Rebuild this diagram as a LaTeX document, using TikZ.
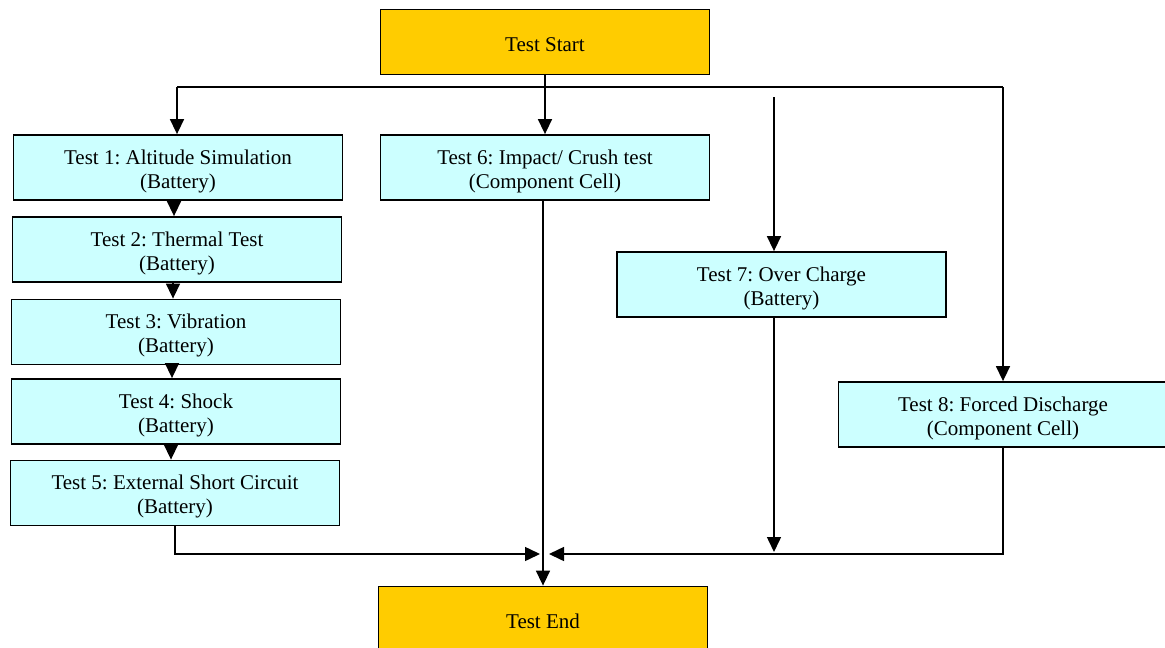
\documentclass[tikz,border=0pt]{standalone}
\usepackage{fontspec}
\setmainfont{Liberation Serif}
\usetikzlibrary{arrows.meta}
\definecolor{startc}{HTML}{FFCC00}
\definecolor{boxc}{HTML}{CCFFFF}
\begin{document}
\frenchspacing
\begin{tikzpicture}[x=1pt,y=-1pt,
  box/.style={draw, line width=1.8pt, fill=boxc, minimum width=329pt, minimum height=65pt,
    align=center, font=\rmfamily\fontsize{21}{24}\selectfont, inner sep=0pt,
    text height=44pt, text depth=3pt},
  term/.style={box, fill=startc, text height=20pt, text depth=2pt},
  conn/.style={line width=1.5pt},
  arr/.style={conn, -{Triangle[length=15pt,width=14pt]}}]
\useasboundingbox (0,0) rectangle (1165,648);

\node[term] (start) at (545,42) {Test Start};
\node[box] (t1) at (178,167.5) {Test 1: Altitude Simulation\\(Battery)};
\node[box] (t2) at (177,249.5) {Test 2: Thermal Test\\(Battery)};
\node[box] (t3) at (176,332) {Test 3: Vibration\\(Battery)};
\node[box] (t4) at (176,411.5) {Test 4: Shock\\(Battery)};
\node[box] (t5) at (175,493) {Test 5: External Short Circuit\\(Battery)};
\node[box] (t6) at (545,167.5) {Test 6: Impact/ Crush test\\(Component Cell)};
\node[box] (t7) at (781.5,284.5) {Test 7: Over Charge\\(Battery)};
\node[box] (t8) at (1003,414.5) {Test 8: Forced Discharge\\(Component Cell)};
\node[term] (end) at (543,619) {Test End};

% top distribution
\coordinate (hl) at (177,87);
\coordinate (hr) at (1003,87);
\coordinate (t7in) at (774,97);
\draw[conn] (hl) -- (hr);
\draw[arr] (start.south) -- (t6.north);
\draw[arr] (hl) -- (hl |- t1.north);
\draw[arr] (hr) -- (hr |- t8.north);
\draw[arr] (t7in) -- (t7in |- t7.north);

% left chain
\coordinate (a1) at (174,200);
\coordinate (a2) at (173,282);
\coordinate (a3) at (172,364);
\coordinate (a4) at (171,444);
\draw[arr] (a1) -- (a1 |- t2.north);
\draw[arr] (a2) -- (a2 |- t3.north);
\draw[arr] (a3) -- (a3 |- t4.north);
\draw[arr] (a4) -- (a4 |- t5.north);

% bottom collection
\coordinate (ml) at (540,554);
\coordinate (mr) at (549,554);
\coordinate (t7out) at (774,552);
\coordinate (t6out) at (543,200);
\draw[arr] (t5.south) |- (ml);
\draw[arr] (t8.south) |- (mr);
\draw[arr] (t7.south -| t7out) -- (t7out);
\draw[arr] (t6out) -- (end.north);
\end{tikzpicture}
\end{document}
